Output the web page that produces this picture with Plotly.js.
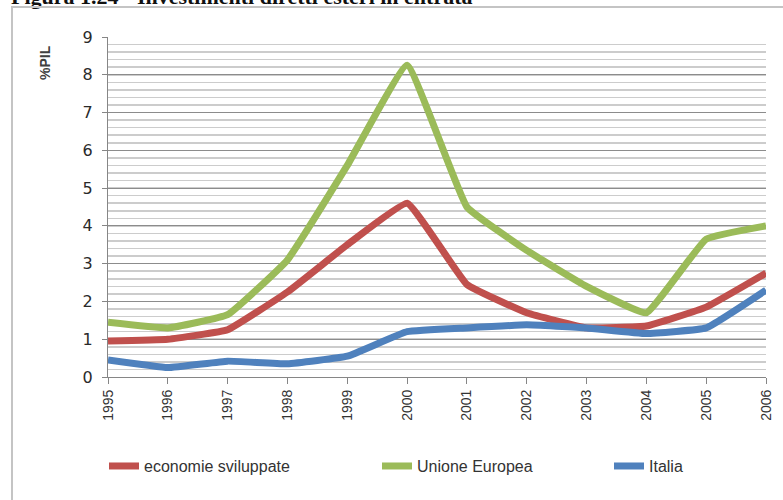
<!DOCTYPE html>
<html>
<head>
<meta charset="utf-8">
<script src="https://cdn.plot.ly/plotly-3.0.1.min.js"></script>
<style>
  html, body { margin:0; padding:0; background:#fff; overflow:hidden; }
  #chart { width:783px; height:500px; position:absolute; left:0; top:0; }
  #frame { position:absolute; left:11px; top:6px; width:800px; height:520px;
           border:2px solid #c4c4c4; box-sizing:border-box; pointer-events:none; }
</style>
</head>
<body>
<div id="chart"></div>
<div id="frame"></div>
<script>
const years = ["1995","1996","1997","1998","1999","2000","2001","2002","2003","2004","2005","2006"];
const economieSviluppate = [0.95, 1.0, 1.25, 2.25, 3.5, 4.6, 2.45, 1.7, 1.3, 1.35, 1.85, 2.75];
const unioneEuropea = [1.45, 1.3, 1.65, 3.1, 5.6, 8.25, 4.5, 3.35, 2.4, 1.7, 3.65, 4.0];
const italia = [0.45, 0.25, 0.42, 0.35, 0.55, 1.2, 1.3, 1.38, 1.3, 1.15, 1.3, 2.3];
const seriesNames = ["economie sviluppate", "Unione Europea", "Italia"];
const yTicks = [0,1,2,3,4,5,6,7,8,9];
const titleText = "Figura 1.24 - Investimenti diretti esteri in entrata";
const yTitle = "%PIL";

function mk(name, y, color, leg) {
  return {
    type: 'scatter', mode: 'lines', name: name, x: years, y: y, legend: leg,
    line: {color: color, width: 7, shape: 'spline', smoothing: 0.3}
  };
}
const data = [
  mk(seriesNames[0], economieSviluppate, '#C0504D', 'legend'),
  mk(seriesNames[1], unioneEuropea, '#9BBB59', 'legend2'),
  mk(seriesNames[2], italia, '#4F81BD', 'legend3')
];

function leg(xpx) {
  return {
    orientation: 'h', x: (xpx-108)/658, xanchor: 'left', y: -0.262, yanchor: 'middle',
    font: {size: 16, color: '#333'}, bgcolor: 'rgba(0,0,0,0)'
  };
}

const layout = {
  width: 783, height: 500,
  margin: {l:108, r:17, t:37, b:123},
  paper_bgcolor: '#fff', plot_bgcolor: '#fff',
  showlegend: true,
  font: {family: 'Liberation Sans, Arial, sans-serif', color: '#404040'},
  xaxis: {
    type: 'category', range: [0, 11], tickangle: -90,
    ticks: 'outside', ticklen: 6, tickcolor: '#868686',
    showline: true, linecolor: '#868686', linewidth: 1,
    showgrid: false, zeroline: false,
    tickfont: {size: 14, color: '#333'}
  },
  yaxis: {
    range: [0, 9], tickvals: yTicks, ticks: 'outside', ticklen: 5, tickcolor: '#868686',
    showline: true, linecolor: '#868686', linewidth: 1,
    gridcolor: '#8c8c8c', gridwidth: 1, zeroline: false,
    tickfont: {size: 16, color: '#2a2a2a', family: 'DejaVu Sans, sans-serif'},
    ticklabelstandoff: 6,
    minor: {dtick: 0.2, showgrid: true, gridcolor: '#cccccc', gridwidth: 1.5, ticks: ''}
  },
  legend: leg(104),
  legend2: leg(377),
  legend3: leg(609),
  annotations: [
    {text: '<b>' + titleText + '</b>', xref: 'paper', yref: 'paper',
     x: -0.149, y: 1.08, xanchor: 'left', yanchor: 'bottom', showarrow: false,
     font: {family: 'Liberation Serif, serif', size: 22, color: '#111'}, borderpad: 0},
    {text: '<b>' + yTitle + '</b>', xref: 'paper', yref: 'paper',
     x: (45-108)/658, y: (377-63)/340, xanchor: 'center', yanchor: 'middle',
     textangle: -90, showarrow: false,
     font: {size: 14, color: '#404040'}}
  ]
};

Plotly.newPlot('chart', data, layout, {displayModeBar: false, staticPlot: true});
</script>
</body>
</html>
